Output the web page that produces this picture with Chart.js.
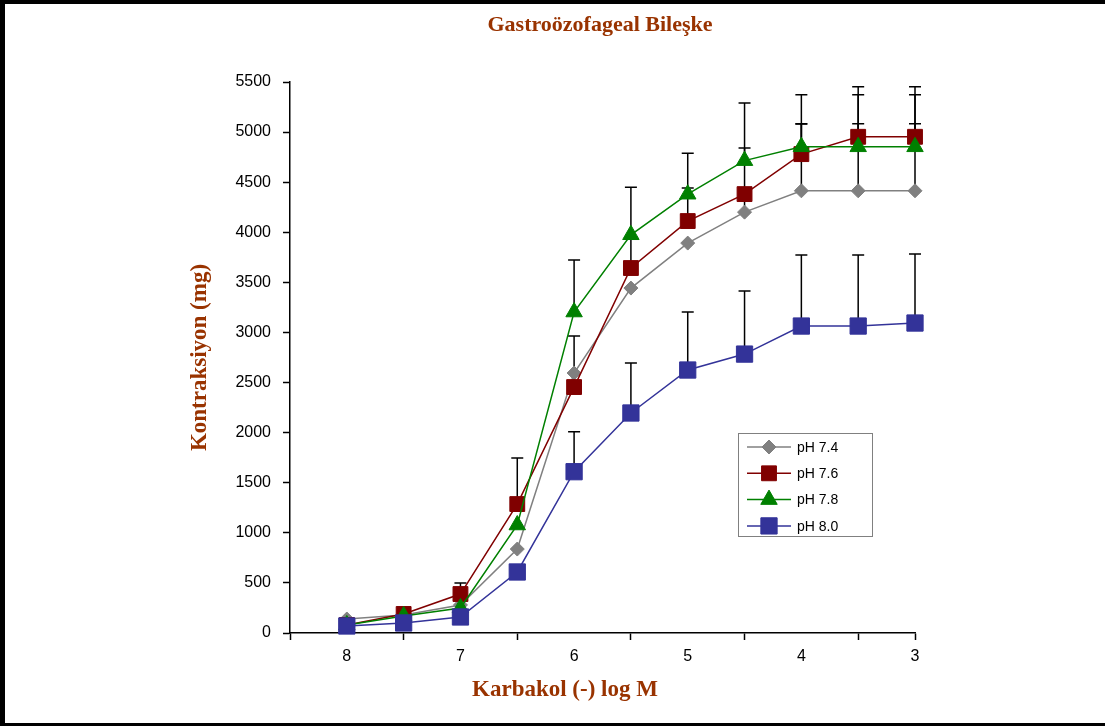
<!DOCTYPE html>
<html>
<head>
<meta charset="utf-8">
<title>Gastroözofageal Bileşke</title>
<script src="https://cdn.jsdelivr.net/npm/chart.js@4.4.1/dist/chart.umd.min.js"></script>
<style>
    html, body { margin: 0; padding: 0; background: #fff; }
    #wrap { position: relative; width: 1105px; height: 726px; overflow: hidden; }
    #frame {
        position: absolute; left: 0; top: 0; width: 1115px; height: 726px;
        box-sizing: border-box; pointer-events: none;
        border-left: 5px solid #000; border-top: 4px solid #000; border-bottom: 3px solid #000;
    }
    canvas { position: absolute; left: 0; top: 0; }
</style>
</head>
<body>
<div id="wrap">
    <canvas id="chart" width="1105" height="726"></canvas>
    <div id="frame"></div>
</div>
<script>
// Chart texts
const chartTitle = 'Gastroözofageal Bileşke';
const xTitle = 'Karbakol (-) log M';
const yTitle = 'Kontraksiyon (mg)';
const TITLE_COLOR = '#993300';

// Doses (-log M), left to right
const doses = [8, 7.5, 7, 6.5, 6, 5.5, 5, 4.5, 4, 3.5, 3];

// Series labels
const seriesLabels = ['pH 7.4', 'pH 7.6', 'pH 7.8', 'pH 8.0'];

// Mean contraction (mg)
const ph74 = [140, 180, 280, 838, 2595, 3443, 3892, 4201, 4414, 4414, 4414];
const ph76 = [80, 190, 389, 1287, 2455, 3643, 4112, 4381, 4780, 4953, 4953];
const ph78 = [80, 170, 250, 1078, 3204, 3975, 4380, 4715, 4853, 4853, 4853];
const ph80 = [70, 100, 160, 609, 1610, 2196, 2625, 2784, 3064, 3064, 3094];

// Upper error (mg), 0 = none shown
const ph74Err = [0, 0, 0, 0, 0, 0, 0, 640, 670, 670, 670];
const ph76Err = [0, 0, 110, 460, 510, 290, 330, 0, 300, 500, 500];
const ph78Err = [0, 0, 0, 0, 520, 475, 410, 575, 520, 520, 520];
const ph80Err = [0, 0, 0, 0, 400, 500, 580, 630, 710, 710, 690];

// Y axis range
const yMin = 0;
const yMax = 5500;
const yStep = 500;

// Build point list for a linear x axis
function toPoints(values) {
    return doses.map((d, i) => ({ x: d, y: values[i] }));
}

// Error bars drawn behind the lines
const errorBarPlugin = {
    id: 'errorBars',
    beforeDatasetsDraw(chart) {
        const { ctx, scales: { x, y } } = chart;
        ctx.save();
        ctx.strokeStyle = '#000';
        ctx.lineWidth = 1.5;
        chart.data.datasets.forEach(ds => {
            ds.plusError.forEach((err, i) => {
                if (!err) return;
                const px = x.getPixelForValue(ds.data[i].x);
                const y0 = y.getPixelForValue(ds.data[i].y);
                const y1 = y.getPixelForValue(ds.data[i].y + err);
                ctx.beginPath();
                ctx.moveTo(px, y0);
                ctx.lineTo(px, y1);
                ctx.moveTo(px - 6, y1);
                ctx.lineTo(px + 6, y1);
                ctx.stroke();
            });
        });
        ctx.restore();
    }
};

// Title and x axis title
const textPlugin = {
    id: 'extraText',
    afterDraw(chart) {
        const ctx = chart.ctx;
        ctx.save();
        ctx.fillStyle = TITLE_COLOR;
        ctx.textAlign = 'center';
        ctx.textBaseline = 'middle';
        ctx.font = 'bold 22px "Liberation Serif"';
        ctx.fillText(chartTitle, 600, 25);
        ctx.font = 'bold 23px "Liberation Serif"';
        ctx.fillText(xTitle, 565, 690);
        ctx.restore();
    }
};

// Boxed legend inside the plot
const legendPlugin = {
    id: 'boxLegend',
    afterDraw(chart) {
        const ctx = chart.ctx;
        const left = 738, top = 433, w = 134, h = 103;
        ctx.save();
        ctx.fillStyle = '#fff';
        ctx.fillRect(left, top, w, h);
        ctx.strokeStyle = '#808080';
        ctx.lineWidth = 1;
        ctx.strokeRect(left + 0.5, top + 0.5, w, h);
        chart.data.datasets.forEach((ds, i) => {
            const cy = 447 + i * 26.3;
            ctx.strokeStyle = ds.borderColor;
            ctx.lineWidth = 1.5;
            ctx.beginPath();
            ctx.moveTo(747, cy);
            ctx.lineTo(791, cy);
            ctx.stroke();
            ctx.fillStyle = ds.pointBackgroundColor;
            ctx.strokeStyle = ds.pointBorderColor;
            ctx.lineWidth = 1;
            Chart.helpers.drawPoint(ctx, {
                pointStyle: ds.pointStyle, radius: ds.pointRadius, rotation: 0, borderWidth: 1
            }, 769, cy);
            ctx.fillStyle = '#000';
            ctx.font = '14px "Liberation Sans"';
            ctx.textAlign = 'left';
            ctx.textBaseline = 'middle';
            ctx.fillText(ds.label, 797, cy + 1);
        });
        ctx.restore();
    }
};

function makeDataset(label, values, errors, color, style, radius, order) {
    return {
        label: label,
        data: toPoints(values),
        plusError: errors,
        borderColor: color,
        backgroundColor: color,
        pointBackgroundColor: color,
        pointBorderColor: color,
        borderWidth: 1.5,
        pointStyle: style,
        pointRadius: radius,
        pointHoverRadius: radius,
        pointBorderWidth: 1,
        tension: 0,
        clip: false,
        order: order
    };
}

Chart.defaults.font.family = '"Liberation Sans", Arial, sans-serif';
Chart.defaults.color = '#000';

const ctx = document.getElementById('chart').getContext('2d');
new Chart(ctx, {
    type: 'line',
    data: {
        datasets: [
            makeDataset(seriesLabels[0], ph74, ph74Err, '#808080', 'rectRot', 7, 4),
            makeDataset(seriesLabels[1], ph76, ph76Err, '#800000', 'rect', 10.5, 3),
            makeDataset(seriesLabels[2], ph78, ph78Err, '#008000', 'triangle', 9.5, 2),
            makeDataset(seriesLabels[3], ph80, ph80Err, '#333399', 'rect', 11.5, 1)
        ]
    },
    options: {
        responsive: false,
        animation: false,
        events: [],
        layout: { padding: { left: 186, right: 190, top: 82, bottom: 0 } },
        plugins: {
            legend: { display: false },
            title: { display: false },
            tooltip: { enabled: false }
        },
        scales: {
            x: {
                type: 'linear',
                reverse: true,
                min: 3,
                max: 8.5,
                afterFit: scale => { scale.height = 93; },
                border: { color: '#000', width: 1.5 },
                grid: {
                    drawOnChartArea: false,
                    drawTicks: true,
                    tickLength: 7,
                    tickWidth: 1.5,
                    tickColor: c => (c.tick && (c.tick.value % 1 !== 0 || c.tick.value === 3)) ? '#000' : 'rgba(0,0,0,0)'
                },
                ticks: {
                    stepSize: 0.5,
                    autoSkip: false,
                    maxTicksLimit: 20,
                    maxRotation: 0,
                    padding: 7,
                    font: { size: 16 },
                    callback: v => Number.isInteger(v) ? String(v) : ''
                }
            },
            y: {
                min: yMin,
                max: yMax,
                afterFit: scale => { scale.width = 104; },
                border: { color: '#000', width: 1.5 },
                grid: {
                    drawOnChartArea: false,
                    drawTicks: true,
                    tickLength: 7,
                    tickWidth: 1.5,
                    tickColor: '#000'
                },
                ticks: {
                    stepSize: yStep,
                    padding: 12,
                    font: { size: 16 },
                    callback: v => String(v)
                },
                title: {
                    display: true,
                    text: yTitle,
                    color: TITLE_COLOR,
                    padding: 0,
                    font: { family: '"Liberation Serif"', size: 23, weight: 'bold', lineHeight: 1.2 }
                }
            }
        }
    },
    plugins: [errorBarPlugin, textPlugin, legendPlugin]
});
</script>
</body>
</html>
